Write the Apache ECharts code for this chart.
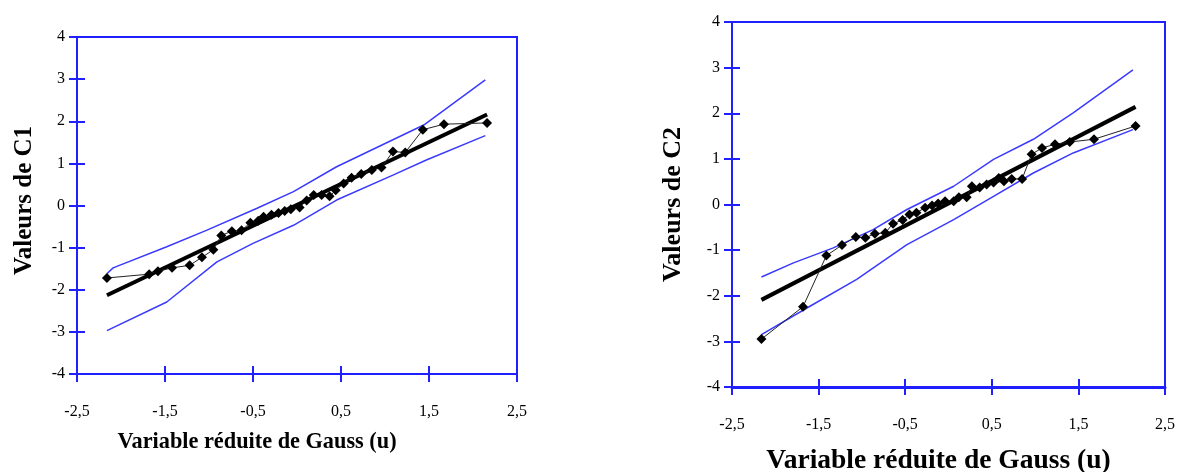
<!DOCTYPE html>
<html>
<head>
<meta charset="utf-8">
<script src="https://cdn.jsdelivr.net/npm/echarts@6/dist/echarts.min.js"></script>
<style>
html,body{margin:0;padding:0;background:#fff;}
#main{width:1185px;height:472px;}
</style>
</head>
<body>
<div id="main"></div>
<script>
// ---- Data ----
const xTickValues = [-2.5, -1.5, -0.5, 0.5, 1.5, 2.5];
const yTickValues = [-4, -3, -2, -1, 0, 1, 2, 3, 4];
const xAxisTitle = 'Variable réduite de Gauss (u)';
const yTitle1 = 'Valeurs de C1';
const yTitle2 = 'Valeurs de C2';

// C1 observed (u, value)
const c1Obs = [[-2.16,-1.72],[-1.68,-1.63],[-1.58,-1.56],[-1.42,-1.48],[-1.22,-1.42],[-1.08,-1.23],[-0.95,-1.05],[-0.86,-0.71],[-0.74,-0.61],[-0.63,-0.59],[-0.53,-0.41],[-0.44,-0.36],[-0.38,-0.27],[-0.29,-0.22],[-0.21,-0.18],[-0.14,-0.13],[-0.07,-0.09],[0.03,-0.05],[0.11,0.12],[0.19,0.25],[0.28,0.25],[0.37,0.22],[0.44,0.36],[0.53,0.52],[0.62,0.66],[0.73,0.75],[0.85,0.84],[0.96,0.90],[1.09,1.28],[1.23,1.26],[1.43,1.80],[1.67,1.93],[2.16,1.96]];
const c1Fit = [[-2.16,-2.13],[2.16,2.16]];
const c1Upper = [[-2.16,-1.62],[-2.09,-1.48],[-1.48,-0.98],[-1.03,-0.59],[-0.46,-0.07],[-0.04,0.33],[0.45,0.92],[1.44,1.91],[2.14,2.98]];
const c1Lower = [[-2.16,-2.97],[-1.48,-2.29],[-0.91,-1.34],[-0.50,-0.90],[-0.04,-0.47],[0.45,0.13],[1.09,0.72],[1.47,1.08],[2.14,1.66]];

// C2 observed (u, value)
const c2Obs = [[-2.16,-2.95],[-1.68,-2.24],[-1.41,-1.12],[-1.23,-0.89],[-1.07,-0.71],[-0.96,-0.73],[-0.85,-0.64],[-0.73,-0.62],[-0.64,-0.42],[-0.53,-0.34],[-0.45,-0.22],[-0.37,-0.18],[-0.27,-0.07],[-0.19,-0.02],[-0.12,0.02],[-0.04,0.07],[0.06,0.07],[0.12,0.16],[0.21,0.16],[0.27,0.40],[0.36,0.37],[0.44,0.44],[0.52,0.48],[0.58,0.58],[0.64,0.51],[0.73,0.56],[0.85,0.56],[0.96,1.10],[1.08,1.24],[1.23,1.32],[1.40,1.37],[1.68,1.43],[2.16,1.72]];
const c2Fit = [[-2.16,-2.09],[2.16,2.14]];
const c2Upper = [[-2.16,-1.59],[-1.79,-1.28],[-1.33,-0.95],[-0.87,-0.55],[-0.48,-0.11],[0.06,0.40],[0.52,0.99],[0.98,1.43],[1.44,2.01],[2.13,2.95]];
const c2Lower = [[-2.16,-2.85],[-1.60,-2.23],[-1.06,-1.64],[-0.48,-0.88],[0.06,-0.33],[0.52,0.18],[0.98,0.69],[1.44,1.13],[2.13,1.64]];

// ---- Styling ----
const BLUE = '#1f1fff';
const BAND = '#3a3aff';
const FONT = 'Liberation Serif';
const fmt = v => String(v).replace('.', ',');

function xAxes(gi, labelMargin, nameGap, nameSize, namePad, lineW) {
  return [{
    gridIndex: gi, type: 'value', min: -2.5, max: 2.5, position: 'bottom',
    axisLine: {show: true, onZero: false, lineStyle: {color: BLUE, width: lineW}},
    axisTick: {show: true, length: 8, customValues: xTickValues, lineStyle: {color: BLUE, width: 2}},
    axisLabel: {customValues: xTickValues, formatter: fmt, color: '#000', fontFamily: FONT, fontSize: 16, margin: labelMargin},
    splitLine: {show: false},
    name: xAxisTitle, nameLocation: 'middle', nameGap: nameGap,
    nameTextStyle: {fontFamily: FONT, fontWeight: 'bold', fontSize: nameSize, color: '#000', padding: namePad}
  }, {
    gridIndex: gi, type: 'value', min: -2.5, max: 2.5, position: 'bottom',
    axisLine: {show: false, onZero: false},
    axisTick: {show: true, inside: true, length: 8, customValues: xTickValues, lineStyle: {color: BLUE, width: 2}},
    axisLabel: {show: false}, splitLine: {show: false}
  }];
}
function yAxes(gi, title, nameGap, nameSize, namePad) {
  return [{
    gridIndex: gi, type: 'value', min: -4, max: 4, interval: 1, position: 'left',
    axisLine: {show: true, onZero: false, lineStyle: {color: BLUE, width: 2}},
    axisTick: {show: true, length: 8, lineStyle: {color: BLUE, width: 2}},
    axisLabel: {formatter: fmt, color: '#000', fontFamily: FONT, fontSize: 16, margin: 12},
    splitLine: {show: false},
    name: title, nameLocation: 'middle', nameGap: nameGap, nameRotate: 90,
    nameTextStyle: {fontFamily: FONT, fontWeight: 'bold', fontSize: nameSize, color: '#000', padding: namePad}
  }, {
    gridIndex: gi, type: 'value', min: -4, max: 4, interval: 1, position: 'left',
    axisLine: {show: false, onZero: false},
    axisTick: {show: true, inside: true, length: 8, lineStyle: {color: BLUE, width: 2}},
    axisLabel: {show: false}, splitLine: {show: false}
  }];
}

function seriesFor(xi, yi, obs, fit, up, lo) {
  return [
    {type: 'line', xAxisIndex: xi, yAxisIndex: yi, data: up, symbol: 'none',
     lineStyle: {color: BAND, width: 1.5}, silent: true, z: 2},
    {type: 'line', xAxisIndex: xi, yAxisIndex: yi, data: lo, symbol: 'none',
     lineStyle: {color: BAND, width: 1.5}, silent: true, z: 2},
    {type: 'line', xAxisIndex: xi, yAxisIndex: yi, data: fit, symbol: 'none',
     lineStyle: {color: '#000', width: 4}, silent: true, z: 3},
    {type: 'line', xAxisIndex: xi, yAxisIndex: yi, data: obs, symbol: 'diamond', symbolSize: 10,
     itemStyle: {color: '#000'}, lineStyle: {color: '#222', width: 1}, silent: true, z: 4}
  ];
}

const option = {
  animation: false,
  backgroundColor: '#fff',
  grid: [
    {left: 77, top: 37, width: 440, height: 337, show: true, borderColor: BLUE, borderWidth: 2, backgroundColor: 'transparent', outerBoundsMode: 'none', containLabel: false},
    {left: 732, top: 22, width: 433, height: 365, show: true, borderColor: BLUE, borderWidth: 2, backgroundColor: 'transparent', outerBoundsMode: 'none', containLabel: false}
  ],
  xAxis: [...xAxes(0, 30, 57, 22.3, [0, 80, 0, 0], 2), ...xAxes(1, 30, 60, 27.5, [0, 20, 0, 0], 3)],
  yAxis: [...yAxes(0, yTitle1, 40, 25, [0, 0, 0, 10]), ...yAxes(1, yTitle2, 46, 26, [0, 0, 0, 0])],
  series: [
    ...seriesFor(0, 0, c1Obs, c1Fit, c1Upper, c1Lower),
    ...seriesFor(2, 2, c2Obs, c2Fit, c2Upper, c2Lower)
  ]
};
const chart = echarts.init(document.getElementById('main'), null, {renderer: 'canvas'});
chart.setOption(option);
</script>
</body>
</html>
